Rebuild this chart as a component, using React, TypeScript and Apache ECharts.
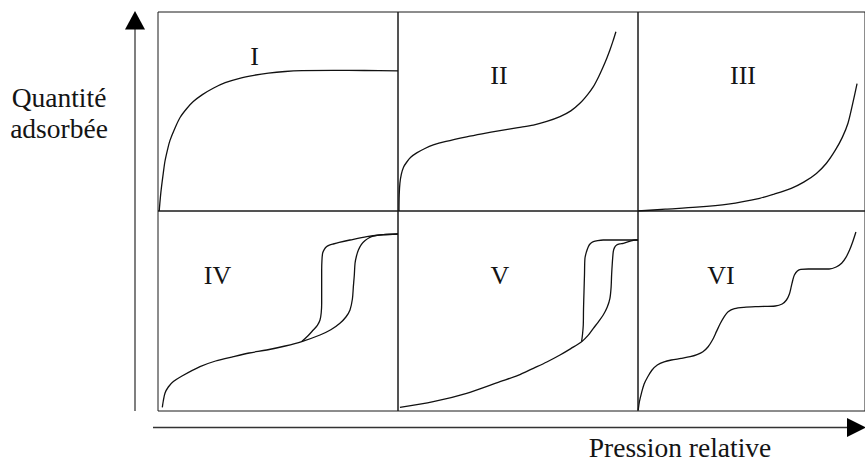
import React, { useEffect, useRef } from "react";
import * as echarts from "echarts";

// Six isotherm shapes (IUPAC classification), each drawn in its own 0–100 panel.
// Points are [relative pressure %, adsorbed quantity %] of the panel.
const panelLabels = ["I", "II", "III", "IV", "V", "VI"];

const typeI: [number, number][] = [
  [0.5, 0], [1, 7], [1.5, 12.5], [2.2, 19], [2.9, 25], [4, 31], [5, 35.5], [7, 41.5],
  [9.2, 47], [12, 51.5], [14.7, 55], [18.5, 58.5], [23, 61.7], [28, 64.5], [34, 66.7],
  [40, 68.2], [46, 69.3], [53, 70.1], [60, 70.5], [73, 70.7], [86, 70.6], [100, 70.4],
];

const typeII: [number, number][] = [
  [0.4, 0], [0.5, 8], [0.8, 14], [1.4, 18.5], [2.3, 22], [3.6, 24.5], [5.3, 27], [7.8, 29.2],
  [11, 31.3], [14.7, 33.2], [20, 35], [28.6, 37.3], [35, 38.8], [42.5, 40.4], [50, 41.9],
  [56.4, 43.2], [62, 45], [67.5, 47.4], [72, 50.3], [75.8, 54.1], [79, 58.5], [81.4, 62.5],
  [83.6, 67.5], [85.5, 72.5], [87, 76.8], [88.3, 80.9], [89.6, 85.5], [90.8, 90.1],
];

const typeIII: [number, number][] = [
  [0, 0], [12, 0.9], [25.8, 1.9], [39.7, 3.5], [53.6, 6.4], [60, 8.5], [67.5, 11.4],
  [73, 14.5], [78.6, 18.9], [83, 24], [87, 30.7], [90, 37], [92.5, 44.1], [94.6, 54.1],
  [96.5, 64],
];

const typeIVAdsorption: [number, number][] = [
  [1.8, 1.8], [2.2, 5], [2.9, 8.9], [4.3, 12], [6.4, 14.7], [10, 17.5], [17.5, 22.2],
  [24, 25], [31.4, 27.2], [38, 29], [45.3, 30.5], [53, 32.5], [59.9, 34.7], [67.5, 38],
  [72, 40.6], [75.8, 43.9], [78.3, 47], [80, 50.5], [81, 56], [81.4, 62.2], [81.8, 68],
  [82.1, 73.9], [82.7, 77.5], [83.5, 80.5], [84.7, 83.2], [86.3, 85.2], [88, 86.6],
  [89.7, 87.5], [93.9, 88.2], [100, 88.5],
];

const typeIVDesorption: [number, number][] = [
  [100, 88.5], [92.5, 88], [87, 87.2], [80, 85.5], [75.5, 84.3], [73, 83.5], [71.4, 82.9],
  [70.3, 82.2], [69.3, 80.8], [68.6, 78.9], [68.3, 75], [68.2, 70.5], [68.2, 62],
  [68.2, 53.9], [68, 49], [67.5, 45.5], [66.4, 42.8], [64.7, 40.5], [62.5, 37.6], [59.9, 34.7],
];

const typeVAdsorption: [number, number][] = [
  [0.8, 1.85], [14.7, 4.65], [28.6, 8.85], [42.5, 14.65], [50, 17.8], [56.4, 21.35],
  [62, 24.5], [67.5, 28], [72, 31.2], [76.5, 34.65], [79.2, 37.8], [81.4, 41.35],
  [83.5, 44.6], [85.5, 48], [87.2, 52], [88.3, 56.35], [88.8, 62], [89, 68], [89.3, 74],
  [89.7, 79.65], [90.2, 81.7], [91.1, 83], [92.4, 83.6], [93.9, 83.85], [96.5, 84.8],
  [98.75, 85.5], [100, 85.5],
];

const typeVDesorption: [number, number][] = [
  [100, 85.5], [98.75, 85.5], [92, 85.5], [85.5, 85.5], [83.2, 85.2], [81.4, 84.65],
  [80.1, 83.6], [79.3, 82.15], [78.5, 79.5], [77.9, 76.35], [77.7, 68], [77.5, 59.65],
  [77.3, 51], [77.2, 43], [76.9, 38.5], [76.5, 34.65],
];

const typeVI: [number, number][] = [
  [0.1, 0.5], [0.6, 4.5], [1.5, 8.85], [2.7, 13.5], [4.3, 17.15], [6.2, 20.5], [8.5, 23],
  [11.5, 24.6], [14.7, 25.5], [19, 26.3], [23, 27.15], [26, 28.2], [28.6, 29.65], [30.8, 32],
  [32.8, 35.5], [34.6, 39.8], [36.3, 43.85], [38, 47.2], [39.7, 49.65], [42.5, 51.2],
  [46.7, 51.85], [53, 52.2], [60.5, 52.5], [63.5, 53.5], [65.4, 55.5], [66.7, 58.5],
  [67.5, 62.15], [68.2, 65.5], [68.9, 68], [70.2, 70], [71.7, 70.85], [75, 71], [78.6, 71],
  [84.2, 71], [87.3, 72], [89.7, 73.85], [91.6, 76.8], [93.2, 80.5], [94.6, 84.65], [96, 89.5],
];

const yTitle = ["Quantité", "adsorbée"];
const xTitle = "Pression relative";

// panel layout (pixels)
const panelLeft = [158, 398, 638];
const panelTop = [12, 211];
const panelHeight = [199, 200];
const panelWidth = 240;

// label centres within the page
const labelPos: [number, number][] = [
  [254.5, 56], [499, 75.5], [743, 75.5],
  [217.5, 275], [500, 275], [721, 275],
];

const ink = "#141414";
const titleFont = "27.5px Liberation Serif";
const labelFont = "26px Liberation Serif";

export default function App() {
  const ref = useRef<HTMLDivElement>(null);

  useEffect(() => {
    if (!ref.current) return;
    const chart = echarts.init(ref.current, undefined, { renderer: "svg" });

    const grids: any[] = [];
    const xAxes: any[] = [];
    const yAxes: any[] = [];
    for (let r = 0; r < 2; r++) {
      for (let c = 0; c < 3; c++) {
        grids.push({
          left: panelLeft[c],
          top: panelTop[r],
          width: panelWidth,
          height: panelHeight[r],
          show: true,
          borderColor: "#1a1a1a",
          borderWidth: 1,
          backgroundColor: "transparent",
          containLabel: false,
        });
        const i = r * 3 + c;
        xAxes.push({ type: "value", gridIndex: i, min: 0, max: 100, show: false });
        yAxes.push({ type: "value", gridIndex: i, min: 0, max: 100, show: false });
      }
    }

    const curve = (data: [number, number][], idx: number) => ({
      type: "line",
      xAxisIndex: idx,
      yAxisIndex: idx,
      data,
      smooth: 0.3,
      symbol: "none",
      showSymbol: false,
      silent: true,
      lineStyle: { color: "#111", width: 1.3 },
    });

    const series = [
      curve(typeI, 0),
      curve(typeII, 1),
      curve(typeIII, 2),
      curve(typeIVAdsorption, 3),
      curve(typeIVDesorption, 3),
      curve(typeVAdsorption, 4),
      curve(typeVDesorption, 4),
      curve(typeVI, 5),
    ];

    const textEl = (text: string, x: number, y: number, font: string) => ({
      type: "text",
      x,
      y,
      silent: true,
      style: {
        text,
        font,
        fill: ink,
        align: "center",
        verticalAlign: "middle",
      },
    });

    const graphics: any[] = [
      // vertical axis arrow
      {
        type: "line",
        shape: { x1: 135, y1: 28, x2: 135, y2: 411 },
        style: { stroke: "#555", lineWidth: 1.5 },
        silent: true,
      },
      {
        type: "polygon",
        shape: { points: [[125, 29.5], [145, 29.5], [135, 11]] },
        style: { fill: "#000" },
        silent: true,
      },
      // horizontal axis arrow
      {
        type: "line",
        shape: { x1: 153, y1: 427.5, x2: 848, y2: 427.5 },
        style: { stroke: "#333", lineWidth: 1.5 },
        silent: true,
      },
      {
        type: "polygon",
        shape: { points: [[847, 418], [847, 437], [866, 427.5]] },
        style: { fill: "#000" },
        silent: true,
      },
      textEl(yTitle[0], 59, 97, titleFont),
      textEl(yTitle[1], 59, 128, titleFont),
      textEl(xTitle, 680, 447.5, titleFont),
      ...panelLabels.map((t, i) => textEl(t, labelPos[i][0], labelPos[i][1], labelFont)),
    ];

    chart.setOption({
      animation: false,
      backgroundColor: "#ffffff",
      grid: grids,
      xAxis: xAxes,
      yAxis: yAxes,
      series,
      graphic: graphics,
    });

    return () => {
      chart.dispose();
    };
  }, []);

  return (
    <div
      ref={ref}
      style={{ position: "absolute", left: 0, top: 0, width: 865, height: 463 }}
    />
  );
}
